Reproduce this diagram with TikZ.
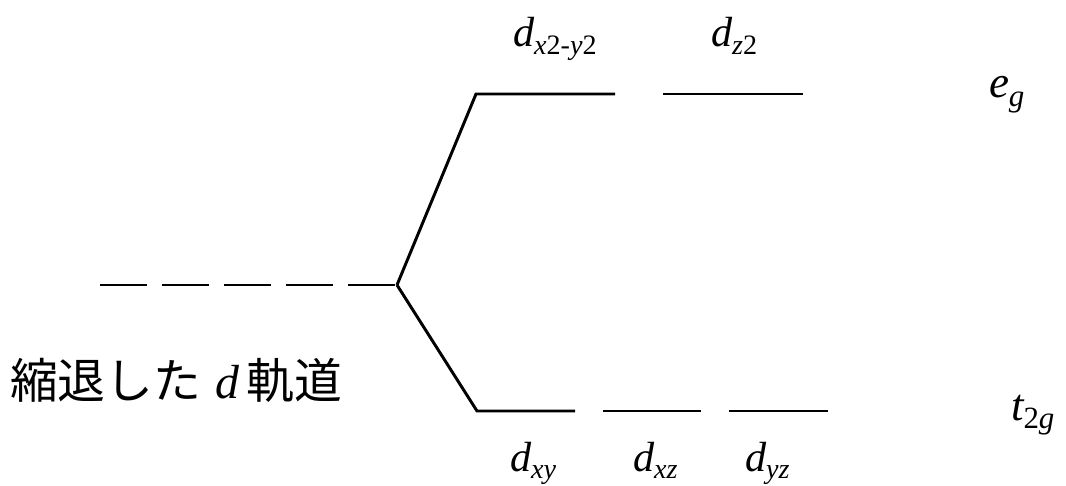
\documentclass[tikz,border=0pt]{standalone}
\usepackage{fontspec}
\setmainfont{Liberation Serif}
\newfontfamily\jpfont{Noto Sans CJK JP}
\newcommand{\mybig}[1]{{\fontsize{30}{30}\selectfont\itshape #1}}
\newcommand{\mysmall}[1]{\raisebox{-5pt}{\fontsize{20}{20}\selectfont #1}}
\begin{document}
\begin{tikzpicture}[x=0.025cm,y=-0.025cm,
  level/.style={line width=2.1pt},
  lbl/.style={anchor=base west,inner sep=0pt,outer sep=0pt},
  sym/.style={anchor=base west,inner sep=0pt,outer sep=0pt}]
\useasboundingbox (0,0) rectangle (1066,486);
% degenerate level
\coordinate (deg) at (100,285);
\coordinate (j) at (397,285);
\draw[level,dash pattern=on 1.18cm off 0.37cm] (deg) -- (j);
% eg levels
\coordinate (e1a) at (476,94);
\coordinate (e1b) at (615,94);
\coordinate (e2a) at (663,94);
\coordinate (e2b) at (803,94);
\draw[level,line join=miter] (j) -- (e1a) -- (e1b);
\draw[level] (e2a) -- (e2b);
% t2g levels
\coordinate (t1a) at (477,411);
\coordinate (t1b) at (575,411);
\coordinate (t2a) at (603,411);
\coordinate (t2b) at (701,411);
\coordinate (t3a) at (729,411);
\coordinate (t3b) at (828,411);
\draw[level,line join=miter] (j) -- (t1a) -- (t1b);
\draw[level] (t2a) -- (t2b);
\draw[level] (t3a) -- (t3b);
% labels
\node[lbl] (lx2y2) at (513,47) {\mybig{d}\mysmall{\textit{x}2-\textit{y}2}};
\node[lbl] (lz2) at (711,47) {\mybig{d}\mysmall{\textit{z}2}};
\node[lbl] (lxy) at (510,471) {\mybig{d}\mysmall{\textit{xy}}};
\node[lbl] (lxz) at (633,471) {\mybig{d}\mysmall{\textit{xz}}};
\node[lbl] (lyz) at (745,471) {\mybig{d}\mysmall{\textit{yz}}};
\node[sym] (eg) at (989,98) {{\fontsize{32}{32}\selectfont\itshape e}\raisebox{-6pt}{\fontsize{22}{22}\selectfont\itshape g}};
\node[sym] (t2g) at (1011,420) {{\fontsize{32}{32}\selectfont\itshape t}\raisebox{-6pt}{\fontsize{22}{22}\selectfont 2\itshape g}};
\node[lbl] (deglbl) at (10,398) {\fontsize{34}{34}\selectfont\jpfont 縮退した\hspace{0.3em}{\rmfamily\itshape d}\hspace{0.15em}軌道};
\end{tikzpicture}
\end{document}
